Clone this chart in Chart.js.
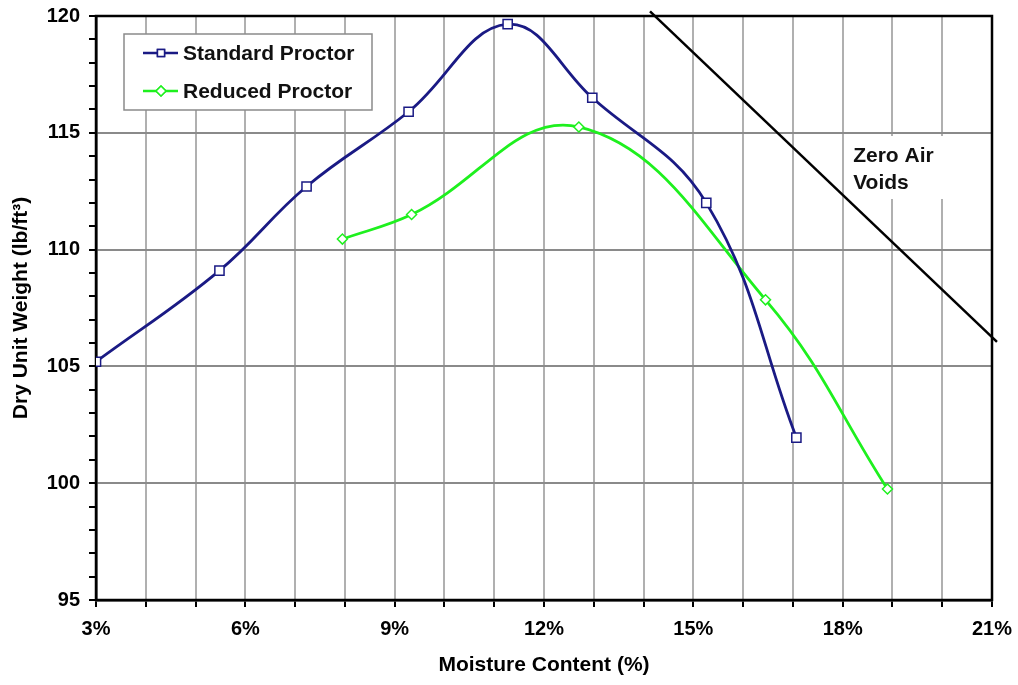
<!DOCTYPE html>
<html>
<head>
<meta charset="utf-8">
<script src="https://cdn.jsdelivr.net/npm/chart.js@4.4.1/dist/chart.umd.min.js"></script>
<style>
  body { margin: 0; background: #fff; }
</style>
</head>
<body>
<canvas id="myChart" width="1018" height="685"></canvas>
<script>
const standardMoisture = [3.0, 5.48, 7.23, 9.28, 11.27, 12.97, 15.26, 17.07];
const standardWeight = [105.2, 109.1, 112.7, 115.9, 119.65, 116.5, 112.0, 101.95];
const reducedMoisture = [7.95, 9.34, 12.70, 16.45, 18.9];
const reducedWeight = [110.45, 111.5, 115.25, 107.85, 99.75];
const zavMoisture = [14.13, 21.1];
const zavWeight = [120.2, 106.05];
const xTicks = [3, 6, 9, 12, 15, 18, 21];
const yTicks = [95, 100, 105, 110, 115, 120];

const NAVY = '#1a1a84';
const GREEN = '#1ef01e';
const FONT = "'Liberation Sans', Arial, sans-serif";

function pts(xs, ys) {
    return xs.map((x, i) => ({x: x, y: ys[i]}));
}

Chart.defaults.font.family = FONT;
Chart.defaults.color = '#000';

// frame, label and legend box
const extras = {
    id: 'extras',
    beforeDatasetsDraw(chart) {
        const {ctx, chartArea: a, scales} = chart;
        ctx.save();
        const lx = scales.x.getPixelForValue(18.05);
        ctx.fillStyle = '#fff';
        ctx.fillRect(lx, 136, 102, 63);
        ctx.fillStyle = '#111';
        ctx.font = 'bold 21px ' + FONT;
        ctx.textBaseline = 'middle';
        ctx.fillText('Zero Air', lx + 8, 156);
        ctx.fillText('Voids', lx + 8, 183);
        ctx.strokeStyle = '#000';
        ctx.lineWidth = 2.5;
        ctx.strokeRect(a.left, a.top, a.width, a.height);
        ctx.restore();
    },
    afterDatasetsDraw(chart) {
        const {ctx} = chart;
        ctx.save();
        ctx.fillStyle = '#fff';
        ctx.fillRect(124, 34, 248, 76);
        ctx.strokeStyle = '#8a8a8a';
        ctx.lineWidth = 1.5;
        ctx.strokeRect(124, 34, 248, 76);
        const rows = [53, 91];
        chart.data.datasets.slice(0, 2).forEach((ds, i) => {
            const y = rows[i];
            ctx.strokeStyle = ds.borderColor;
            ctx.lineWidth = 2.5;
            ctx.beginPath();
            ctx.moveTo(143, y);
            ctx.lineTo(178, y);
            ctx.stroke();
            ctx.lineWidth = 1.5;
            Chart.helpers.drawPoint(ctx, {
                pointStyle: ds.pointStyle,
                radius: 5,
                borderWidth: 1.5
            }, 161, y);
            ctx.fillStyle = '#fff';
            ctx.fill();
            ctx.stroke();
            ctx.fillStyle = '#111';
            ctx.font = 'bold 21px ' + FONT;
            ctx.textBaseline = 'middle';
            ctx.fillText(ds.label, 183, y + 1);
        });
        ctx.restore();
    }
};

const ctx = document.getElementById('myChart').getContext('2d');
const myChart = new Chart(ctx, {
    type: 'scatter',
    data: {
        datasets: [{
            label: 'Standard Proctor',
            data: pts(standardMoisture, standardWeight),
            showLine: true,
            tension: 0.4,
            borderColor: NAVY,
            borderWidth: 2.8,
            pointStyle: 'rect',
            pointRadius: 6.5,
            pointBorderWidth: 1.5,
            pointBackgroundColor: '#fff',
            pointBorderColor: NAVY
        }, {
            label: 'Reduced Proctor',
            data: pts(reducedMoisture, reducedWeight),
            showLine: true,
            tension: 0.4,
            borderColor: GREEN,
            borderWidth: 2.8,
            pointStyle: 'rectRot',
            pointRadius: 5,
            pointBorderWidth: 1.5,
            pointBackgroundColor: '#fff',
            pointBorderColor: GREEN
        }, {
            label: 'Zero Air Voids',
            data: pts(zavMoisture, zavWeight),
            showLine: true,
            borderColor: '#000',
            borderWidth: 2.5,
            pointRadius: 0,
            clip: 8
        }]
    },
    options: {
        responsive: false,
        animation: false,
        layout: {padding: {top: 16, right: 26, left: 0, bottom: 0}},
        plugins: {
            legend: {display: false},
            tooltip: {enabled: false}
        },
        scales: {
            x: {
                type: 'linear',
                min: 3,
                max: 21,
                afterFit: s => { s.height = 85; s.paddingLeft = 0; s.paddingRight = 0; },
                ticks: {
                    stepSize: 1,
                    autoSkip: false,
                    maxRotation: 0,
                    padding: 10,
                    font: {size: 20, weight: 'bold'},
                    callback: v => xTicks.includes(v) ? v + '%' : ''
                },
                grid: {
                    color: '#b0b0b0',
                    lineWidth: 2,
                    tickColor: '#000',
                    tickLength: 7,
                    tickWidth: 2
                },
                border: {color: '#000', width: 2.5},
                title: {
                    display: true,
                    text: 'Moisture Content (%)',
                    font: {size: 21, weight: 'bold'},
                    padding: {top: 4, bottom: 7}
                }
            },
            y: {
                min: 95,
                max: 120,
                afterFit: s => { s.width = 96; s.paddingTop = 0; s.paddingBottom = 0; },
                ticks: {
                    stepSize: 1,
                    autoSkip: false,
                    padding: 9,
                    font: {size: 20, weight: 'bold'},
                    callback: v => yTicks.includes(v) ? v : ''
                },
                grid: {
                    color: c => yTicks.includes(c.tick.value) ? '#8a8a8a' : 'transparent',
                    lineWidth: 2,
                    tickColor: '#000',
                    tickLength: 7,
                    tickWidth: 2
                },
                border: {color: '#000', width: 2.5},
                title: {
                    display: true,
                    text: 'Dry Unit Weight (lb/ft³)',
                    font: {size: 21, weight: 'bold'},
                    padding: {top: 9, bottom: 4}
                }
            }
        }
    },
    plugins: [extras]
});
</script>
</body>
</html>
